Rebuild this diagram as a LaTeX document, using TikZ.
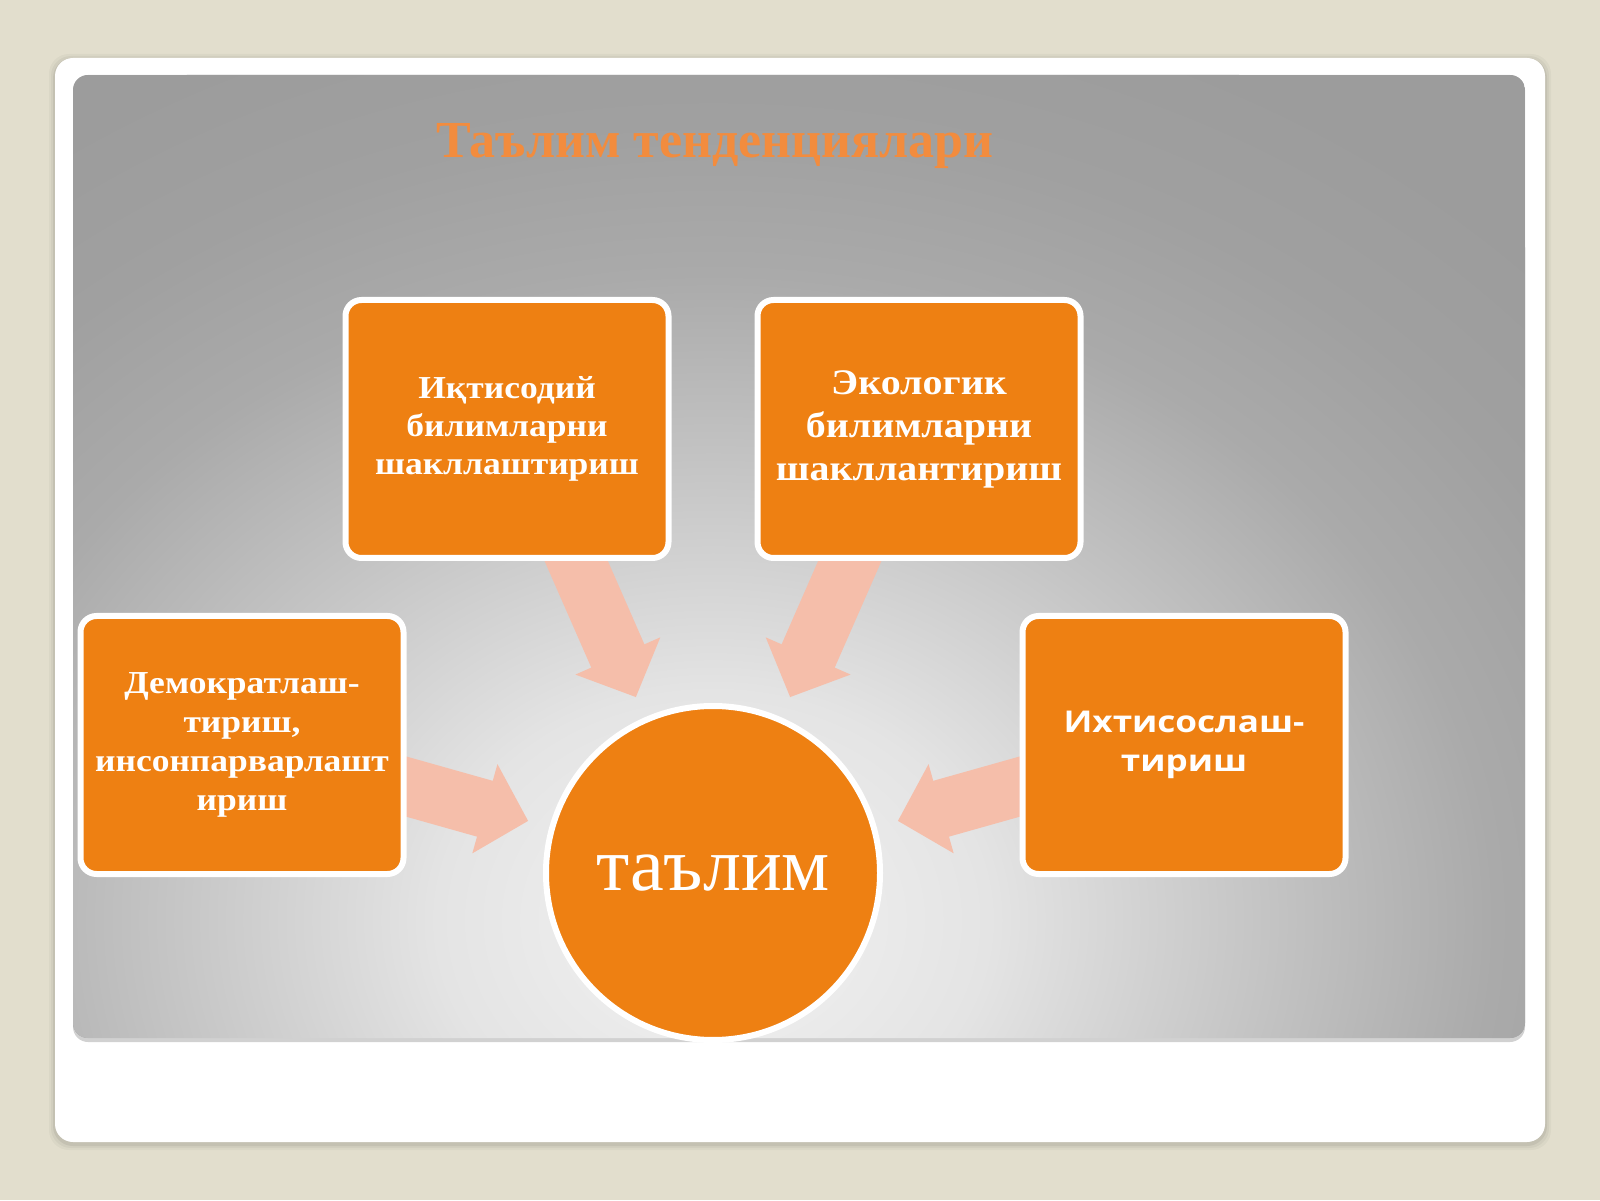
\documentclass[tikz,border=0pt]{standalone}
\usepackage{fontspec}
\setmainfont{Liberation Serif}
\newfontfamily\boxserif{Liberation Serif}[FakeStretch=1.11]
\newfontfamily\boxsans{Open Sans}[FakeStretch=1.17]
\usetikzlibrary{arrows.meta}
\definecolor{bgbeige}{RGB}{226,222,205}
\definecolor{boxorange}{RGB}{238,128,18}
\definecolor{arrowpink}{RGB}{245,190,170}
\definecolor{titleorange}{RGB}{242,140,62}
\definecolor{pcA}{RGB}{243,243,243}
\definecolor{pcB}{RGB}{228,228,228}
\definecolor{pcC}{RGB}{196,196,196}
\definecolor{pcD}{RGB}{170,170,170}
\definecolor{pcE}{RGB}{160,160,160}
\definecolor{pcF}{RGB}{156,156,156}
\pgfdeclareradialshading{panelshade}{\pgfpoint{0bp}{0bp}}{color(0bp)=(pcA); color(6bp)=(pcB); color(12bp)=(pcC); color(17bp)=(pcD); color(21bp)=(pcE); color(25bp)=(pcF); color(50bp)=(pcF)}
\pgfdeclarelayer{backlayer}
\pgfdeclarelayer{midlayer}
\pgfsetlayers{backlayer,midlayer,main}
\begin{document}
\begin{tikzpicture}[x=1pt,y=1pt,
  tbox/.style={draw=white, line width=6pt, fill=boxorange, rounded corners=16pt,
    minimum width=323pt, minimum height=258pt, align=center, text=white, inner sep=0pt},
  bigarrow/.style={draw=arrowpink, line width=58pt, -{Triangle[width=90pt,length=45pt]}, shorten >=22pt},
]
\useasboundingbox (0,0) rectangle (1600,1200);
\begin{pgfonlayer}{backlayer}
\fill[bgbeige] (0,0) rectangle (1600,1200);
\foreach \i/\o in {6/0.03,4/0.04,2/0.06}{
  \fill[black, opacity=\o, rounded corners=20pt] (55-\i,56-\i) rectangle (1545+\i,1140+\i);}
\fill[white, rounded corners=18pt] (55,58) rectangle (1545,1142);
\fill[black, opacity=0.18, rounded corners=15pt] (73,158) rectangle (1525,1125);
\begin{scope}
  \clip[rounded corners=15pt] (73,162) rectangle (1525,1125);
  \fill[pcF] (73,162) rectangle (1525,1125);
  \shade[shading=panelshade] (713,280) ellipse [x radius=1150, y radius=950];
\end{scope}
\end{pgfonlayer}

\node[font=\bfseries\fontsize{52}{60}\selectfont, text=titleorange, anchor=base] (title) at (715,1042) {Таълим тенденциялари};

\node[tbox, font=\boxserif\bfseries\fontsize{32}{38}\selectfont] (b1) at (507,771) {Иқтисодий\\билимларни\\шакллаштириш};
\node[tbox, font=\boxserif\bfseries\fontsize{36}{43}\selectfont] (b2) at (919,771) {Экологик\\билимларни\\шакллантириш};
\node[tbox, font=\boxserif\bfseries\fontsize{32}{39}\selectfont] (b3) at (242,455) {Демократлаш-\\тириш,\\инсонпарварлашт\\ириш};
\node[tbox, font=\boxsans\bfseries\fontsize{30}{39}\selectfont] (b4) at (1184,455) {Ихтисослаш-\\тириш};

\node[circle, draw=white, line width=6pt, fill=boxorange, minimum size=334pt, inner sep=0pt,
  text=white, font=\fontsize{76}{80}\selectfont] (circ) at (713,327) {таълим};

\coordinate (s1) at (567,660);
\coordinate (s2) at (859,660);
\coordinate (s3) at (390,418);
\coordinate (s4) at (1036,418);
\begin{pgfonlayer}{midlayer}
\draw[bigarrow] (s1) -- (circ);
\draw[bigarrow] (s2) -- (circ);
\draw[bigarrow] (s3) -- (circ);
\draw[bigarrow] (s4) -- (circ);
\end{pgfonlayer}
\end{tikzpicture}
\end{document}
